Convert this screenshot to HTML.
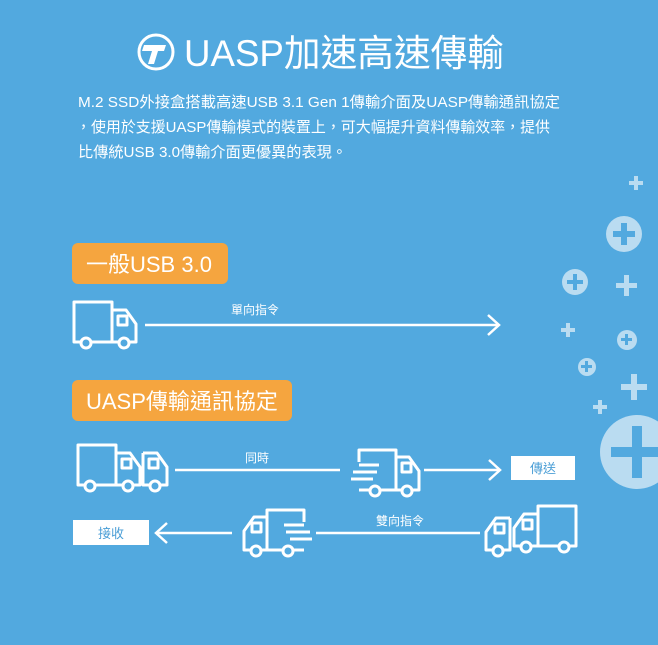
<!DOCTYPE html>
<html><head><meta charset="utf-8"><style>
body{margin:0;width:658px;height:640px;overflow:hidden;background:#52a9df;font-family:"Liberation Sans","Noto Sans CJK TC",sans-serif;}
</style></head><body>
<svg width="658" height="640" viewBox="0 0 658 640" xmlns="http://www.w3.org/2000/svg" font-family="Liberation Sans, Noto Sans CJK TC, sans-serif">
<defs>
<g id="truck" fill="none" stroke="#fff" stroke-width="3" stroke-linejoin="round">
  <path d="M8,42 L2,42 L2,2 L40,2 L40,42 L20,42"/>
  <path d="M40,10 L54,10 L64,24 L64,42 L58,42"/>
  <path d="M46,42 L40,42"/>
  <rect x="46" y="16" width="9" height="9"/>
  <circle cx="14" cy="43" r="5" fill="#52a9df"/>
  <circle cx="52" cy="43" r="5" fill="#52a9df"/>
</g>
<g id="cab" fill="none" stroke="#fff" stroke-width="3" stroke-linejoin="round">
  <path d="M0,10 L14,10 L24,24 L24,42 L18,42"/>
  <path d="M0,10 L0,42 L6,42"/>
  <rect x="6" y="16" width="9" height="9"/>
  <circle cx="12" cy="43" r="5" fill="#52a9df"/>
</g>
<g id="fast" fill="none" stroke="#fff" stroke-width="3" stroke-linejoin="round">
  <path d="M8,14 L8,2 L45,2 L45,42 L30,42"/>
  <path d="M45,9 L58,9 L68,23 L68,42 L62,42"/>
  <path d="M50,42 L45,42"/>
  <rect x="51" y="15" width="9" height="9"/>
  <path d="M18,42 L8,42"/>
  <path d="M8,17 L28,17 M2,24 L26,24 M0,31 L22,31"/>
  <circle cx="24" cy="43" r="5" fill="#52a9df"/>
  <circle cx="56" cy="43" r="5" fill="#52a9df"/>
</g>
</defs>

<!-- logo -->
<circle cx="156" cy="52" r="17" fill="none" stroke="#fff" stroke-width="3"/>
<path d="M144,45 L166,45 L164,51 L158,51 L154,64 L148,64 L152,51 L142,51 Z" fill="#fff"/>
<text x="184" y="66" font-size="37" fill="#fff" textLength="320" lengthAdjust="spacingAndGlyphs">UASP加速高速傳輸</text>

<g font-size="15" fill="#fff">
<text x="78" y="107" textLength="482" lengthAdjust="spacingAndGlyphs">M.2 SSD外接盒搭載高速USB 3.1 Gen 1傳輸介面及UASP傳輸通訊協定</text>
<text x="76" y="132" textLength="474" lengthAdjust="spacingAndGlyphs">，使用於支援UASP傳輸模式的裝置上，可大幅提升資料傳輸效率，提供</text>
<text x="78" y="157" textLength="269" lengthAdjust="spacingAndGlyphs">比傳統USB 3.0傳輸介面更優異的表現。</text>
</g>

<!-- pluses -->
<g fill="#cde5f5" opacity="0.85">
<path d="M634,176h4v5h5v4h-5v5h-4v-5h-5v-4h5z"/>
<circle cx="624" cy="234" r="18"/>
<circle cx="575" cy="282" r="13"/>
<path d="M624,275h5v8h8v5h-8v8h-5v-8h-8v-5h8z"/>
<path d="M566,323h4v5h5v4h-5v5h-4v-5h-5v-4h5z"/>
<circle cx="627" cy="340" r="10"/>
<circle cx="587" cy="367" r="9"/>
<path d="M631,374h6v10h10v6h-10v10h-6v-10h-10v-6h10z"/>
<path d="M598,400h4v5h5v4h-5v5h-4v-5h-5v-4h5z"/>
<circle cx="637" cy="452" r="37"/>
</g>
<g fill="#52a9df">
<path d="M621,223h6v8h8v6h-8v8h-6v-8h-8v-6h8z"/>
<path d="M573,274h4v6h6v4h-6v6h-4v-6h-6v-4h6z"/>
<path d="M625,334h3v4h4v3h-4v4h-3v-4h-4v-3h4z"/>
<path d="M585,361h3v4h4v3h-4v4h-3v-4h-4v-3h4z"/>
<path d="M632,426h10v21h21v10h-21v21h-10v-21h-21v-10h21z"/>
</g>

<!-- orange labels -->
<rect x="72" y="243" width="156" height="41" rx="6" fill="#f5a53f"/>
<text x="86" y="272" font-size="22" fill="#fff">一般USB 3.0</text>
<rect x="72" y="380" width="220" height="41" rx="6" fill="#f5a53f"/>
<text x="86" y="409" font-size="22" fill="#fff">UASP傳輸通訊協定</text>

<!-- row 1 -->
<use href="#truck" x="72" y="300"/>
<line x1="145" y1="325" x2="499" y2="325" stroke="#fff" stroke-width="2.5"/>
<path d="M488,315 L499,325 L488,335" fill="none" stroke="#fff" stroke-width="2.5"/>
<text x="255" y="314" font-size="12" fill="#fff" text-anchor="middle">單向指令</text>

<!-- row 2 -->
<use href="#truck" x="76" y="443"/>
<use href="#cab" x="143" y="443"/>
<line x1="175" y1="470" x2="340" y2="470" stroke="#fff" stroke-width="2.5"/>
<text x="257" y="462" font-size="12" fill="#fff" text-anchor="middle">同時</text>
<use href="#fast" x="351" y="448"/>
<line x1="424" y1="470" x2="500" y2="470" stroke="#fff" stroke-width="2.5"/>
<path d="M489,460 L500,470 L489,480" fill="none" stroke="#fff" stroke-width="2.5"/>
<rect x="511" y="456" width="64" height="24" fill="#fff"/>
<text x="543" y="473" font-size="13" fill="#4a9ed6" text-anchor="middle">傳送</text>

<!-- row 3 -->
<rect x="73" y="520" width="76" height="25" fill="#fff"/>
<text x="111" y="538" font-size="13" fill="#4a9ed6" text-anchor="middle">接收</text>
<line x1="156" y1="533" x2="232" y2="533" stroke="#fff" stroke-width="2.5"/>
<path d="M167,523 L156,533 L167,543" fill="none" stroke="#fff" stroke-width="2.5"/>
<use href="#fast" transform="translate(312,508) scale(-1,1)"/>
<line x1="316" y1="533" x2="480" y2="533" stroke="#fff" stroke-width="2.5"/>
<text x="400" y="525" font-size="12" fill="#fff" text-anchor="middle">雙向指令</text>
<use href="#cab" transform="translate(510,508) scale(-1,1)"/>
<use href="#truck" transform="translate(578,504) scale(-1,1)"/>
</svg>
</body></html>
